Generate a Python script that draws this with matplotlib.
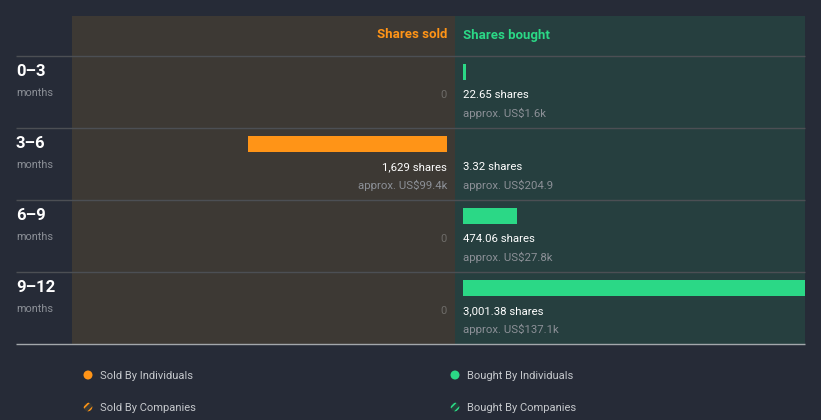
import matplotlib
matplotlib.use("Agg")
import matplotlib.pyplot as plt
from matplotlib.patches import Rectangle, Circle

plt.rcParams['font.family'] = ['Roboto', 'DejaVu Sans']

# ---- data ----
periods = ['0–3', '3–6', '6–9', '9–12']
period_unit = 'months'
sold_shares = [0, 1629, 0, 0]
sold_values = [None, 'US$99.4k', None, None]
bought_shares = [22.65, 3.32, 474.06, 3001.38]
bought_values = ['US$1.6k', 'US$204.9', 'US$27.8k', 'US$137.1k']
header_sold = 'Shares sold'
header_bought = 'Shares bought'
legend_labels = ['Sold By Individuals', 'Sold By Companies',
                 'Bought By Individuals', 'Bought By Companies']

# ---- style ----
BG = '#262b37'
SOLD_BG = '#3d3934'
BOUGHT_BG = '#263f3f'
ORANGE = '#ff9417'
GREEN = '#2bd886'
WHITE = '#ffffff'
GRAY = '#8c9097'
DIMGRAY = '#6e6c69'
LINE = '#4c4f54'

W, H = 821, 420
fig = plt.figure(figsize=(W / 100, H / 100), dpi=100, facecolor=BG)

# background axes in pixel coordinates
bg = fig.add_axes([0, 0, 1, 1])
bg.set_xlim(0, W)
bg.set_ylim(H, 0)
bg.axis('off')
bg.set_facecolor(BG)

row_top = 56
row_h = 72
n = len(periods)
bottom = row_top + row_h * n

bg.add_patch(Rectangle((72, 16), 455 - 72, bottom - 16, facecolor=SOLD_BG, edgecolor='none', zorder=0))
bg.add_patch(Rectangle((455, 16), 805 - 455, bottom - 16, facecolor=BOUGHT_BG, edgecolor='none', zorder=0))

for i in range(n):
    y = row_top + i * row_h
    bg.plot([16, 805], [y, y], color=LINE, lw=1, zorder=1, solid_capstyle='butt')
bg.plot([16, 805], [bottom, bottom], color='#a3a7ab', lw=1, zorder=1, solid_capstyle='butt')

bg.text(447, 35, header_sold, color=ORANGE, fontsize=9.5, fontweight='bold', ha='right', va='center')
bg.text(463, 35, header_bought, color=GREEN, fontsize=9.5, fontweight='bold', ha='left', va='center')


def fmt(v):
    if float(v).is_integer():
        return f"{v:,.0f}"
    return f"{v:,.2f}"


for i, p in enumerate(periods):
    top = row_top + i * row_h
    bg.text(16, top + 15, p, color=WHITE, fontsize=12, fontweight='bold', ha='left', va='center')
    bg.text(16, top + 37, period_unit, color=GRAY, fontsize=7.8, ha='left', va='center')
    # sold side
    if sold_shares[i] == 0:
        bg.text(447, top + 39, '0', color=DIMGRAY, fontsize=8, ha='right', va='center')
    else:
        bg.text(447, top + 39, f"{fmt(sold_shares[i])} shares", color=WHITE, fontsize=8.2, ha='right', va='center')
        bg.text(447, top + 57, f"approx. {sold_values[i]}", color=GRAY, fontsize=8.2, ha='right', va='center')
    # bought side
    bg.text(463, top + 39, f"{fmt(bought_shares[i])} shares", color=WHITE, fontsize=8.2, ha='left', va='center')
    bg.text(463, top + 57, f"approx. {bought_values[i]}", color=GRAY, fontsize=8.2, ha='left', va='center')

# bar axes
def px_axes(x0, x1, y0, y1):
    return fig.add_axes([x0 / W, (H - y1) / H, (x1 - x0) / W, (y1 - y0) / H])

bar_c = [i + 16 / row_h for i in range(n)]
bar_h = 16 / row_h

ax_s = px_axes(72, 447, row_top, bottom)
ax_s.barh(bar_c, sold_shares, height=bar_h, color=ORANGE, align='center')
ax_s.set_xlim(3070, 0)
ax_s.set_ylim(n, 0)
ax_s.axis('off')
ax_s.patch.set_alpha(0)

ax_b = px_axes(463, 805, row_top, bottom)
ax_b.barh(bar_c, bought_shares, height=bar_h, color=GREEN, align='center')
ax_b.set_xlim(0, max(bought_shares))
ax_b.set_ylim(n, 0)
ax_b.axis('off')
ax_b.patch.set_alpha(0)

# legend
leg = [(88, 375, ORANGE, False, legend_labels[0]),
       (88, 407, ORANGE, True, legend_labels[1]),
       (455, 375, GREEN, False, legend_labels[2]),
       (455, 407, GREEN, True, legend_labels[3])]
plt.rcParams['hatch.linewidth'] = 1.2
for x, y, c, hatched, lab in leg:
    if hatched:
        bg.add_patch(Circle((x, y), 4.3, facecolor='#3a3a36' if c == ORANGE else '#24403a',
                            edgecolor=c, hatch='////', lw=0, zorder=3))
    else:
        bg.add_patch(Circle((x, y), 4.5, facecolor=c, edgecolor='none', zorder=3))
    bg.text(x + 12, y + 1, lab, color='#c5c8cc', fontsize=8, ha='left', va='center')

fig.savefig('out.png', dpi=100, facecolor=BG)
